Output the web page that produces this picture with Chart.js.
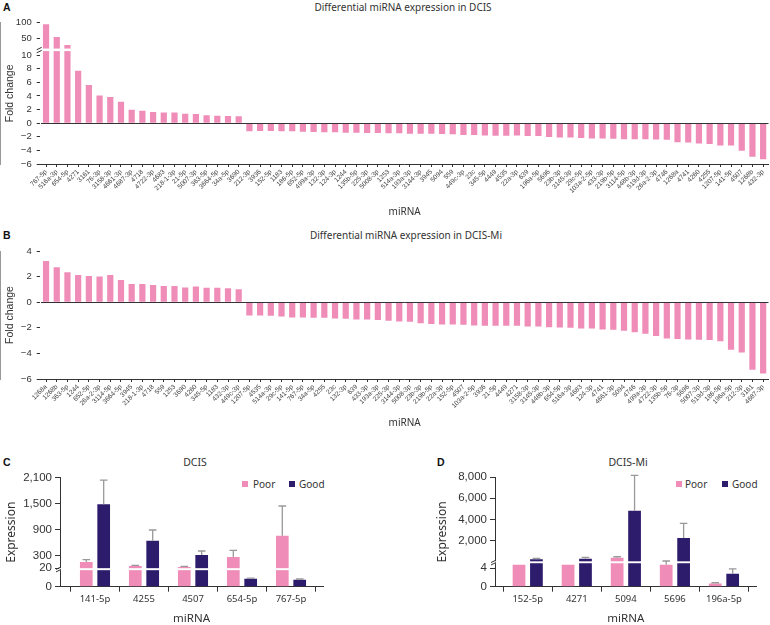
<!DOCTYPE html>
<html>
<head>
<meta charset="utf-8">
<script src="https://cdn.jsdelivr.net/npm/chart.js@4.4.1/dist/chart.umd.min.js"></script>
<style>
  html, body { margin: 0; padding: 0; background: #fff; }
  body { width: 770px; height: 625px; position: relative; overflow: hidden; font-family: "Noto Sans", sans-serif; color: #333; }
  canvas { position: absolute; }
  .letter { position: absolute; font: bold 10.5px "Liberation Sans", sans-serif; line-height: 12px; color: #111; }
  .title { position: absolute; white-space: nowrap; transform: translate(-50%, -50%); font-size: 10px; line-height: 12px; }
  .lg { position: absolute; font-size: 10px; line-height: 12px; white-space: nowrap; }
  .sw { position: absolute; width: 6px; height: 6px; }
</style>
</head>
<body>
<div class="letter" style="left:3px;top:1px">A</div>
<div class="title" style="left:403px;top:7px">Differential miRNA expression in DCIS</div>
<div class="letter" style="left:3px;top:229px">B</div>
<div class="title" style="left:406px;top:235px">Differential miRNA expression in DCIS-Mi</div>
<div class="letter" style="left:3px;top:456px">C</div>
<div class="title" style="left:195px;top:462px;font-size:10.5px">DCIS</div>
<div class="letter" style="left:437px;top:456px">D</div>
<div class="title" style="left:628px;top:462px;font-size:10.5px">DCIS-Mi</div>

<div class="sw" style="left:242px;top:481px;background:#ef8cb8"></div>
<div class="lg" style="left:253px;top:478px">Poor</div>
<div class="sw" style="left:289px;top:481px;background:#2d1b6b"></div>
<div class="lg" style="left:299px;top:478px">Good</div>
<div class="sw" style="left:676px;top:481px;background:#ef8cb8"></div>
<div class="lg" style="left:685px;top:478px">Poor</div>
<div class="sw" style="left:722px;top:481px;background:#2d1b6b"></div>
<div class="lg" style="left:732px;top:478px">Good</div>

<canvas id="chartA" width="770" height="222" style="left:0;top:0"></canvas>
<canvas id="chartB" width="770" height="208" style="left:0;top:225px"></canvas>
<canvas id="chartC" width="385" height="190" style="left:0;top:440px"></canvas>
<canvas id="chartD" width="385" height="190" style="left:385px;top:440px"></canvas>

<script>
// Panel A: fold change in DCIS
const mirnaA = ['767-5p','516a-3p','654-5p','4271','3161','76-3p','3158-3p','4661-3p','4687-3p','4718',
  '4722-3p','4683','218-1-3p','21-5p','5007-3p','363-5p','3664-5p','34a-5p','3690','212-3p',
  '3936','152-5p','1183','186-5p','652-5p','499a-3p','132-3p','124-3p','1244','135b-5p',
  '225-3p','5008-3p','1253','514a-3p','193a-3p','3144-3p','3945','5094','559','449c-3p',
  '23c','345-5p','4449','4535','22a-3p','639','196a-5p','5696','23b-3p','3145-3p',
  '29c-5p','103a-2-5p','433-3p','219b-5p','3114-5p','448b-3p','519d-3p','26a-2-3p','4746','1268a',
  '4741','4260','4255','1207-5p','141-5p','4507','1268b','432-3p'];
const foldA = [95, 56, 31, 7.7, 5.6, 4.05, 3.85, 3.15, 1.95, 1.8,
  1.65, 1.55, 1.55, 1.37, 1.35, 1.17, 1.1, 1.05, 1.0, -1.2,
  -1.15, -1.15, -1.2, -1.2, -1.25, -1.3, -1.35, -1.35, -1.4, -1.4,
  -1.45, -1.45, -1.5, -1.5, -1.55, -1.55, -1.55, -1.6, -1.65, -1.75,
  -1.75, -1.8, -1.85, -1.85, -1.8, -1.9, -1.9, -2.05, -2.1, -2.1,
  -2.2, -2.25, -2.25, -2.3, -2.35, -2.35, -2.35, -2.4, -2.45, -2.8,
  -2.85, -3.0, -3.05, -3.27, -3.3, -4.05, -4.93, -5.3];
const ticksA = [-6, -4, -2, 0, 2, 4, 6, 8, 10, 50, 100];

// Panel B: fold change in DCIS-Mi
const mirnaB = ['1268a','1268b','363-5p','1244','652-5p','26a-2-3p','3114-5p','3664-5p','3945','218-1-3p',
  '4718','559','1253','3690','4260','345-5p','1183','432-3p','449c-3p','1207-5p',
  '4535','514a-3p','29c-5p','141-5p','767-5p','34a-5p','4255','23c','132-3p','639',
  '433-3p','193a-3p','225-3p','3144-3p','5008-3p','23b-3p','219b-5p','22a-3p','152-5p','4507',
  '103a-2-5p','3936','21-5p','4449','4271','3158-3p','3145-3p','448b-3p','654-5p','516a-3p',
  '4683','124-3p','4741','4661-3p','5094','4746','499a-3p','4722-3p','135b-5p','76-3p',
  '5696','5007-3p','519d-3p','186-5p','196a-5p','212-3p','3161','4687-3p'];
const foldB = [3.22, 2.73, 2.34, 2.13, 2.05, 2.0, 2.13, 1.74, 1.43, 1.43,
  1.35, 1.27, 1.27, 1.14, 1.22, 1.12, 1.12, 1.09, 1.01, -1.04,
  -1.04, -1.06, -1.12, -1.19, -1.19, -1.22, -1.22, -1.27, -1.3, -1.35,
  -1.35, -1.4, -1.45, -1.51, -1.53, -1.64, -1.71, -1.74, -1.74, -1.77,
  -1.82, -1.84, -1.84, -1.84, -1.84, -1.9, -1.9, -1.95, -1.97, -2.0,
  -2.05, -2.05, -2.13, -2.16, -2.23, -2.34, -2.47, -2.65, -2.83, -2.88,
  -2.91, -2.94, -2.96, -3.06, -3.71, -3.92, -5.27, -5.58];

// Panel C: DCIS expression, mean and upper error
const mirnaC = ['141-5p', '4255', '4507', '654-5p', '767-5p'];
const poorC = [162, 70, 47, 277, 767];
const poorErrC = [215, 85, 62, 430, 1449];
const goodC = [1490, 652, 323, 10, 8.75];
const goodErrC = [2046, 897, 415, 10.8, 9.6];
const ticksC = [0, 20, 300, 900, 1500, 2100];

// Panel D: DCIS-Mi expression
const mirnaD = ['152-5p', '4271', '5094', '5696', '196a-5p'];
const poorD = [4.8, 4.8, 348, 4.8, 0.7];
const poorErrD = [null, null, 442, 36, 0.86];
const goodD = [200, 253, 4822, 2222, 2.83];
const goodErrD = [291, 386, 8190, 3623, 3.9];
const ticksD = [0, 4, 2000, 4000, 6000, 8000];

const pink = '#ef8cb8';
const navy = '#2d1b6b';
const ink = '#333';

Chart.defaults.font.family = 'Liberation Sans';
Chart.defaults.color = ink;

// linear scale with a break: each segment maps [min,max] to a slice [from,to] of the axis
class BrokenScale extends Chart.LinearScale {
  static id = 'broken';
  buildTicks() {
    super.buildTicks();
    return this.options.tickValues.map(v => ({ value: v }));
  }
  getPixelForValue(v) {
    const segs = this.options.segments;
    let s = segs[0];
    for (let i = 1; i < segs.length; i++) if (v >= segs[i].min) s = segs[i];
    return this.getPixelForDecimal(s.from + (v - s.min) / (s.max - s.min) * (s.to - s.from));
  }
  getValueForPixel(p) {
    const d = this.getDecimalForPixel(p);
    const segs = this.options.segments;
    let s = segs[0];
    for (let i = 1; i < segs.length; i++) if (d >= segs[i].from) s = segs[i];
    return s.min + (d - s.from) / (s.to - s.from) * (s.max - s.min);
  }
}
Chart.register(BrokenScale);

// white gap + slashes where the axis is broken
const breakPlugin = {
  id: 'axisBreak',
  afterDatasetsDraw(chart) {
    const y = chart.scales.y;
    const segs = y.options.segments;
    if (!segs || segs.length < 2) return;
    const a = chart.chartArea, ctx = chart.ctx;
    const lo = y.getPixelForDecimal(segs[0].to);
    const hi = y.getPixelForDecimal(segs[1].from);
    ctx.save();
    ctx.fillStyle = '#fff';
    ctx.fillRect(a.left - 1, hi, a.right - a.left + 2, lo - hi - 0.5);
    ctx.strokeStyle = ink;
    ctx.lineWidth = 1;
    [lo, hi].forEach(p => {
      ctx.beginPath();
      ctx.moveTo(a.left - 4, p + 1.2);
      ctx.lineTo(a.left + 1, p - 1.2);
      ctx.stroke();
    });
    ctx.restore();
  }
};

// one-sided (upper) error bars, values taken from dataset.errTop
const errorPlugin = {
  id: 'errorBars',
  afterDatasetsDraw(chart) {
    const ctx = chart.ctx, y = chart.scales.y;
    chart.data.datasets.forEach((ds, di) => {
      if (!ds.errTop) return;
      chart.getDatasetMeta(di).data.forEach((bar, i) => {
        const e = ds.errTop[i];
        if (e == null) return;
        const py = y.getPixelForValue(e);
        const hw = bar.width * 0.3;
        ctx.save();
        ctx.strokeStyle = '#999';
        ctx.lineWidth = 1.3;
        ctx.beginPath();
        ctx.moveTo(bar.x, bar.y);
        ctx.lineTo(bar.x, py);
        ctx.moveTo(bar.x - hw, py);
        ctx.lineTo(bar.x + hw, py);
        ctx.stroke();
        ctx.restore();
      });
    });
  }
};

const fmtNum = v => (v < 0 ? '\u2212' : '') + Math.abs(v).toLocaleString('en-US');

function foldChart(id, labels, values, yScale, pad, xHeight) {
  new Chart(document.getElementById(id), {
    type: 'bar',
    data: {
      labels: labels,
      datasets: [{ data: values, backgroundColor: pink, barPercentage: 0.58, categoryPercentage: 1 }]
    },
    options: {
      responsive: false,
      animation: false,
      devicePixelRatio: 1,
      layout: { padding: pad },
      plugins: { legend: { display: false }, tooltip: { enabled: false } },
      scales: {
        x: {
          offset: true,
          grid: { drawOnChartArea: false, offset: false, tickLength: 3, tickColor: ink },
          border: { color: ink },
          ticks: { autoSkip: false, minRotation: 45, maxRotation: 45, padding: 1, color: '#444',
                   font: { family: 'Liberation Sans', size: 6.6 } },
          title: { display: true, text: 'miRNA', color: ink, font: { family: 'Noto Sans', size: 10 } },
          afterFit: s => { s.height = xHeight; }
        },
        y: Object.assign({
          grid: { z: 1, tickLength: 4, tickColor: ink,
                  color: c => (c.tick && c.tick.value === 0) ? ink : 'rgba(0,0,0,0)' },
          border: { color: ink },
          title: { display: true, text: 'Fold change', color: ink, font: { family: 'Liberation Sans', size: 10.5 } },
          afterFit: s => { s.width = 40.7; }
        }, yScale)
      }
    },
    plugins: [breakPlugin]
  });
}

foldChart('chartA', mirnaA, foldA, {
  type: 'broken', min: -6, max: 100,
  segments: [{ min: -6, max: 10.5, from: 0, to: 0.7955 }, { min: 20, max: 100, from: 0.817, to: 1 }],
  tickValues: ticksA,
  ticks: { autoSkip: false, padding: 5, font: { size: 9.5 }, callback: fmtNum }
}, { top: 22.7, right: 1.5, bottom: 0, left: 0 }, 58);

foldChart('chartB', mirnaB, foldB, {
  type: 'linear', min: -6, max: 4,
  ticks: { stepSize: 2, autoSkip: false, padding: 5, font: { size: 9.5 }, callback: fmtNum }
}, { top: 26, right: 1.5, bottom: 0, left: 0 }, 54);

function exprChart(id, cats, poor, poorErr, good, goodErr, yScale, pad, xMin, xMax) {
  const pts = arr => arr.map((v, i) => ({ x: i, y: v }));
  new Chart(document.getElementById(id), {
    type: 'bar',
    data: {
      datasets: [
        { label: 'Poor', data: pts(poor), errTop: poorErr, backgroundColor: pink, categoryPercentage: 0.71, barPercentage: 0.73 },
        { label: 'Good', data: pts(good), errTop: goodErr, backgroundColor: navy, categoryPercentage: 0.71, barPercentage: 0.73 }
      ]
    },
    options: {
      responsive: false,
      animation: false,
      devicePixelRatio: 1,
      layout: { padding: pad },
      plugins: { legend: { display: false }, tooltip: { enabled: false } },
      scales: {
        x: {
          type: 'linear', min: xMin, max: xMax, offset: false,
          grid: { drawOnChartArea: false, tickLength: 5, tickColor: ink },
          border: { color: ink },
          ticks: { stepSize: 1, includeBounds: false, autoSkip: false, maxRotation: 0, padding: 2,
                   font: { family: 'Noto Sans', size: 9.5 }, callback: v => cats[Math.round(v)] },
          title: { display: true, text: 'miRNA', font: { family: 'Noto Sans', size: 11.5 } },
          afterFit: s => { s.height = 43.3; }
        },
        y: Object.assign({
          type: 'broken',
          grid: { drawOnChartArea: false, tickLength: 5, tickColor: ink },
          border: { color: ink },
          ticks: { autoSkip: false, padding: 3, font: { size: 11.5 }, callback: fmtNum },
          title: { display: true, text: 'Expression', font: { family: 'Noto Sans', size: 12 } }
        }, yScale)
      }
    },
    plugins: [breakPlugin, errorPlugin]
  });
}

exprChart('chartC', mirnaC, poorC, poorErrC, goodC, goodErrC, {
  min: 0, max: 2100,
  segments: [{ min: 0, max: 20, from: 0, to: 0.147 }, { min: 20, max: 2100, from: 0.17, to: 1 }],
  tickValues: ticksC,
  afterFit: s => { s.width = 60; }
}, { top: 37.7, right: 62, bottom: 0, left: 0 }, -0.714, 4.653);

exprChart('chartD', mirnaD, poorD, poorErrD, goodD, goodErrD, {
  min: 0, max: 8000,
  segments: [{ min: 0, max: 5, from: 0, to: 0.21 }, { min: 5, max: 8000, from: 0.232, to: 1 }],
  tickValues: ticksD,
  afterFit: s => { s.width = 64; }
}, { top: 37.3, right: 13.3, bottom: 0, left: 46 }, -0.667, 4.667);
</script>
</body>
</html>
